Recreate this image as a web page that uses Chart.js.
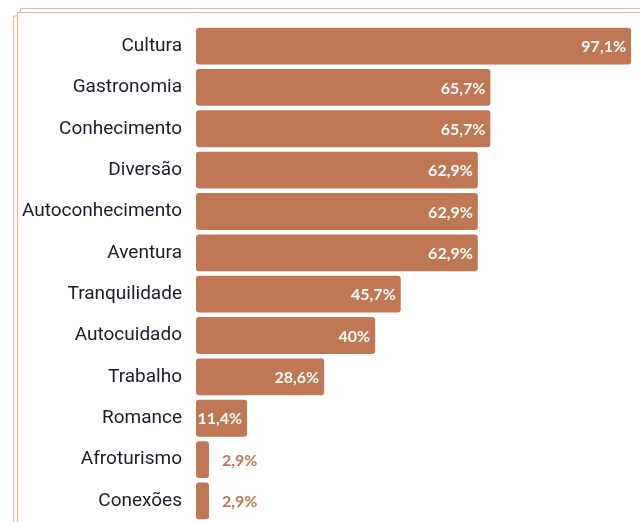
<!DOCTYPE html>
<html>
<head>
<meta charset="utf-8">
<script src="https://cdn.jsdelivr.net/npm/chart.js@4"></script>
<style>
  html, body { margin: 0; padding: 0; background: #fff; overflow: hidden; }
  #wrap { width: 640px; height: 547px; position: relative; }
</style>
</head>
<body>
<div id="wrap"><canvas id="motivChart"></canvas></div>
<script>
const categories = ['Cultura','Gastronomia','Conhecimento','Diversão','Autoconhecimento','Aventura',
  'Tranquilidade','Autocuidado','Trabalho','Romance','Afroturismo','Conexões'];
const values = [97.1, 65.7, 65.7, 62.9, 62.9, 62.9, 45.7, 40, 28.6, 11.4, 2.9, 2.9];
const valueLabels = ['97,1%','65,7%','65,7%','62,9%','62,9%','62,9%','45,7%','40%','28,6%','11,4%','2,9%','2,9%'];

const barColor = '#c07753';

// frame lines in the corner
const framePlugin = {
  id: 'frame',
  beforeDraw(chart) {
    const ctx = chart.ctx;
    ctx.save();
    ctx.strokeStyle = '#e9b9a2';
    ctx.lineWidth = 1.2;
    ctx.beginPath();
    ctx.moveTo(20.5, 8.5); ctx.lineTo(640, 8.5);
    ctx.moveTo(17.5, 12.5); ctx.lineTo(640, 12.5);
    ctx.moveTo(13.5, 16); ctx.lineTo(13.5, 547);
    ctx.moveTo(17.5, 12.5); ctx.lineTo(17.5, 547);
    ctx.moveTo(20.5, 8.5); ctx.lineTo(20.5, 12.5);
    ctx.moveTo(13.5, 16); ctx.lineTo(17.5, 16);
    ctx.stroke();
    ctx.restore();
  }
};

// value labels: inside for long bars, outside for short ones
const labelPlugin = {
  id: 'valueLabels',
  afterDatasetsDraw(chart) {
    const ctx = chart.ctx;
    const meta = chart.getDatasetMeta(0);
    ctx.save();
    ctx.font = 'bold 16px Lato';
    ctx.textBaseline = 'middle';
    meta.data.forEach((bar, i) => {
      const w = bar.x - bar.base;
      const txt = valueLabels[i];
      if (w > 50) {
        ctx.fillStyle = '#ffffff';
        ctx.textAlign = 'right';
        ctx.fillText(txt, bar.x - 5, bar.y + 1);
      } else {
        ctx.fillStyle = barColor;
        ctx.textAlign = 'left';
        ctx.fillText(txt, bar.x + 13, bar.y + 1);
      }
    });
    ctx.restore();
  }
};

new Chart(document.getElementById('motivChart'), {
  type: 'bar',
  data: {
    labels: categories,
    datasets: [{
      data: values,
      backgroundColor: barColor,
      borderRadius: 3,
      borderSkipped: false,
      barPercentage: 0.89,
      categoryPercentage: 1
    }]
  },
  options: {
    indexAxis: 'y',
    responsive: true,
    maintainAspectRatio: false,
    animation: false,
    layout: { padding: { top: 24, bottom: 0, left: 0, right: 0 } },
    plugins: { legend: { display: false }, tooltip: { enabled: false } },
    scales: {
      x: { display: false, min: 0, max: 99.1 },
      y: {
        grid: { display: false, drawTicks: false },
        border: { display: false },
        afterFit(scale) { scale.width = 196; },
        ticks: {
          padding: 14,
          color: '#1b1b2a',
          font: { family: 'Roboto', size: 19 }
        }
      }
    }
  },
  plugins: [framePlugin, labelPlugin]
});
</script>
</body>
</html>
